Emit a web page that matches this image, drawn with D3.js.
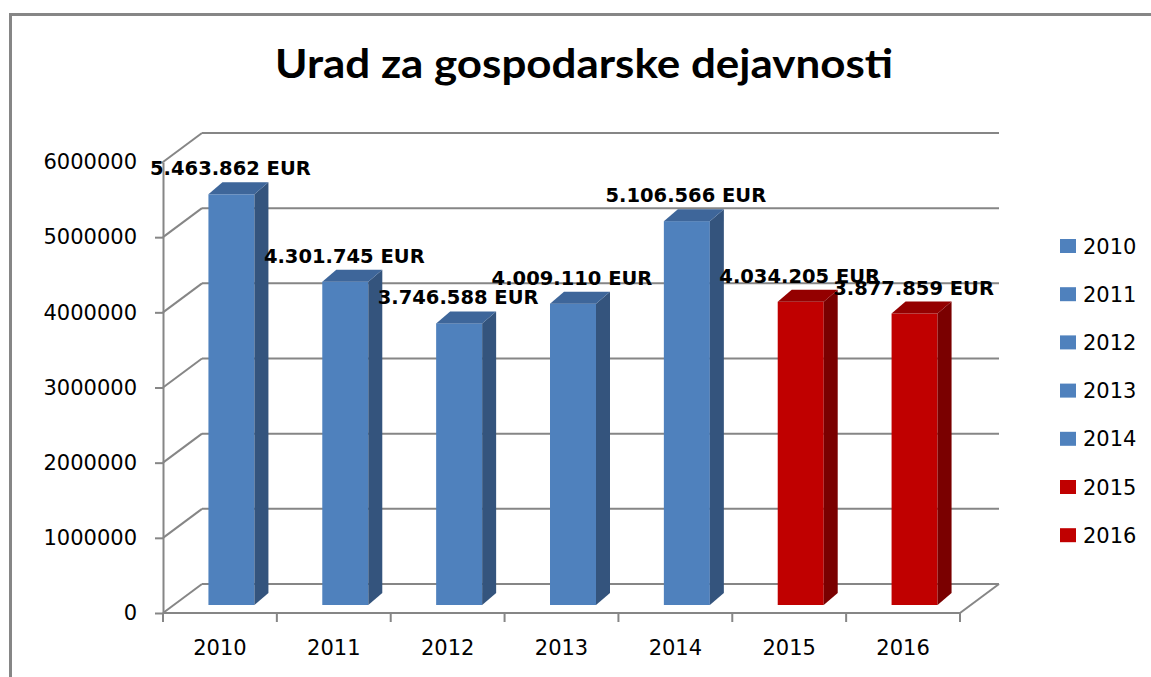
<!DOCTYPE html>
<html>
<head>
<meta charset="utf-8">
<script src="https://cdn.jsdelivr.net/npm/d3@7"></script>
<style>
  body { margin: 0; background: #fff; }
  text { font-family: "DejaVu Sans", sans-serif; fill: #000; }
</style>
</head>
<body>
<script>
// podatki
const years = ["2010", "2011", "2012", "2013", "2014", "2015", "2016"];
const amounts = [5463862, 4301745, 3746588, 4009110, 5106566, 4034205, 3877859];
const redYears = ["2015", "2016"];
const yTicks = [0, 1000000, 2000000, 3000000, 4000000, 5000000, 6000000];
const title = "Urad za gospodarske dejavnosti";

const width = 1151, height = 677;
const grid = "#868686";
const blue = { front: "#4F81BD", side: "#34547D", top: "#3E669A" };
const red = { front: "#C00000", side: "#7A0000", top: "#940000" };

const wall = { dx: 39, dy: -29 };   // globina ozadja
const box = { dx: 14, dy: -12 };    // globina stolpca
const sink = 8;                     // stolpci stojijo malo za sprednjim robom

const svg = d3.select("body").append("svg")
  .attr("width", width)
  .attr("height", height);

// okvir
svg.append("rect")
  .attr("x", 10.5).attr("y", 14.5)
  .attr("width", 1300).attr("height", 900)
  .attr("fill", "none").attr("stroke", grid).attr("stroke-width", 3);

const x = d3.scaleBand().domain(years).range([163, 960]);
const y = d3.scaleLinear().domain([0, 6000000]).range([613, 162]);
const x0 = x.range()[0], x1 = x.range()[1];

// mreža na zadnji steni
const gridG = svg.append("g").attr("stroke", grid).attr("stroke-width", 2).attr("fill", "none");
yTicks.forEach(t => {
  gridG.append("line")
    .attr("x1", x0).attr("y1", y(t))
    .attr("x2", x0 + wall.dx).attr("y2", y(t) + wall.dy);
  gridG.append("line")
    .attr("x1", x0 + wall.dx).attr("y1", y(t) + wall.dy)
    .attr("x2", x1 + wall.dx).attr("y2", y(t) + wall.dy);
});
// tla
gridG.append("line").attr("x1", x0).attr("y1", y(0)).attr("x2", x1).attr("y2", y(0));
gridG.append("line").attr("x1", x1).attr("y1", y(0)).attr("x2", x1 + wall.dx).attr("y2", y(0) + wall.dy);

// os y
const yAxis = svg.append("g")
  .attr("transform", `translate(${x0},0)`)
  .call(d3.axisLeft(y).tickValues(yTicks).tickSize(8).tickSizeOuter(0).tickPadding(18).tickFormat(d3.format("d")));
yAxis.selectAll("path, line").attr("stroke", grid).attr("stroke-width", 2);
yAxis.selectAll("text").style("font-size", "21px").attr("fill", "#000");

// os x
const xAxis = svg.append("g")
  .attr("transform", `translate(0,${y(0)})`)
  .call(d3.axisBottom(x).tickSize(0).tickPadding(27));
xAxis.select(".domain").remove();
xAxis.selectAll("text").style("font-size", "21px").attr("fill", "#000");

svg.append("g").selectAll("line")
  .data(years.map(d => x(d)).concat([x1]))
  .join("line")
  .attr("x1", d => d).attr("x2", d => d)
  .attr("y1", y(0)).attr("y2", y(0) + 9)
  .attr("stroke", grid).attr("stroke-width", 2);

// stolpci
const bw = 46;
const data = years.map((yr, i) => ({ year: yr, value: amounts[i] }));
const bars = svg.append("g").selectAll("g")
  .data(data)
  .join("g");

const barLeft = d => x(d.year) + x.bandwidth() / 2 + 11.5 - bw / 2;
const barTop = d => y(d.value) - sink;
const barBottom = y(0) - sink;
const pal = d => redYears.includes(d.year) ? red : blue;

bars.append("rect")
  .attr("x", barLeft)
  .attr("y", barTop)
  .attr("width", bw)
  .attr("height", d => barBottom - barTop(d))
  .attr("fill", d => pal(d).front);

bars.append("path")
  .attr("fill", d => pal(d).side)
  .attr("d", d => {
    const a = barLeft(d) + bw, t = barTop(d);
    return `M${a},${t}L${a + box.dx},${t + box.dy}L${a + box.dx},${barBottom + box.dy}L${a},${barBottom}Z`;
  });

bars.append("path")
  .attr("fill", d => pal(d).top)
  .attr("d", d => {
    const a = barLeft(d), t = barTop(d);
    return `M${a},${t}L${a + box.dx},${t + box.dy}L${a + bw + box.dx},${t + box.dy}L${a + bw},${t}Z`;
  });

// oznake vrednosti
const fmt = d3.formatLocale({ decimal: ",", thousands: ".", grouping: [3], currency: ["", " EUR"] }).format(",d");
svg.append("g").selectAll("text")
  .data(data)
  .join("text")
  .attr("x", d => barLeft(d) + bw / 2 - 1)
  .attr("y", d => barTop(d) - 19)
  .attr("text-anchor", "middle")
  .style("font-size", "19.5px")
  .style("font-weight", "bold")
  .text(d => fmt(d.value) + " EUR");

// naslov
svg.append("text")
  .attr("x", 584).attr("y", 78)
  .attr("text-anchor", "middle")
  .attr("textLength", 618)
  .attr("lengthAdjust", "spacingAndGlyphs")
  .style("font-family", "Lato, sans-serif")
  .style("font-weight", "bold")
  .style("font-size", "41px")
  .text(title);

// legenda
const legend = svg.append("g").selectAll("g")
  .data(data)
  .join("g")
  .attr("transform", (d, i) => `translate(1060,${246 + i * 48.2})`);
legend.append("rect")
  .attr("x", 0).attr("y", -7)
  .attr("width", 16).attr("height", 14)
  .attr("fill", d => pal(d).front);
legend.append("text")
  .attr("x", 23).attr("dy", "0.36em")
  .style("font-size", "21px")
  .text(d => d.year);
</script>
</body>
</html>
